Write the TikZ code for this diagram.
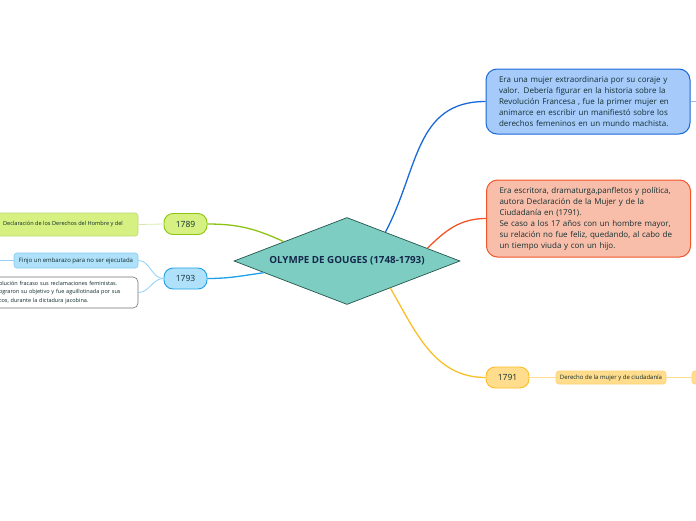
\documentclass[tikz,border=0pt]{standalone}
\usepackage{fontspec}
\setmainfont{Open Sans}
\usetikzlibrary{positioning,shapes.geometric}

\definecolor{txtcol}{RGB}{18,48,50}
\definecolor{titlecol}{RGB}{20,40,75}
\definecolor{tealfill}{RGB}{126,205,195}
\definecolor{tealline}{RGB}{35,85,75}
\definecolor{bluefill}{RGB}{166,202,250}
\definecolor{blueline}{RGB}{25,105,215}
\definecolor{salmonfill}{RGB}{249,190,170}
\definecolor{salmonline}{RGB}{242,85,40}
\definecolor{greenfill}{RGB}{214,240,130}
\definecolor{greenline}{RGB}{140,195,20}
\definecolor{skyfill}{RGB}{175,225,250}
\definecolor{skyline}{RGB}{30,160,230}
\definecolor{goldfill}{RGB}{255,221,140}
\definecolor{goldline}{RGB}{250,190,40}

\begin{document}
\begin{tikzpicture}[x=1pt,y=-1pt,
  mybubble/.style = {draw, rounded corners=11pt, line width=1pt, align=left, text width=178pt, inner xsep=13pt, font=\fontsize{8}{11}\selectfont, text=txtcol},
  myyear/.style = {draw, rounded corners=9pt, line width=0.9pt, minimum width=43pt, minimum height=21pt, font=\fontsize{8.5}{9}\selectfont, text=txtcol},
  myleaf/.style = {draw, rounded corners=3pt, line width=0.6pt, inner ysep=1pt, font=\fontsize{6}{8.5}\selectfont, text=txtcol!85!black},
  mylink/.style = {line width=1.3pt},
  mytwig/.style = {line width=0.8pt}]
\clip (0,0) rectangle (696,520);

% central topic
\node[diamond, shape aspect=2.6, draw=tealline, fill=tealfill, line width=0.7pt, minimum width=226pt, minimum height=87pt, inner sep=0pt, font=\bfseries\fontsize{9.8}{11}\selectfont, text=titlecol] (olympe) at (347,261) {OLYMPE DE GOUGES (1748-1793)};

% right side
\node[mybubble, fill=bluefill, draw=blueline, minimum height=65pt] (courage) at (588,101.5)
  {Era una mujer extraordinaria por su coraje y\\ valor. Debería figurar en la historia sobre la\\ Revolución Francesa , fue la primer mujer en\\ animarce en escribir un manifiestó sobre los\\ derechos femeninos en un mundo machista.};
\node[mybubble, fill=salmonfill, draw=salmonline, minimum height=77pt] (writer) at (588.5,218.5)
  {Era escritora, dramaturga,panfletos y política,\\ autora Declaración de la Mujer y de la\\ Ciudadanía en (1791).\\ Se caso a los 17 años con un hombre mayor,\\ su relación no fue feliz, quedando, al cabo de\\ un tiempo viuda y con un hijo.};
\node[myyear, fill=goldfill, draw=goldline] (y1791) at (507.5,377.5) {1791};
\node[myleaf, fill=goldfill, draw=goldfill!85!orange, minimum width=110pt, minimum height=13pt] (derecho) at (611,377.5) {Derecho de la mujer y de ciudadanía};
\node[myleaf, fill=goldfill, draw=goldfill!85!orange, minimum width=36pt, minimum height=13pt] (derechonext) at (710,377.5) {};
\coordinate (couragetail) at (710,101.5);

% left side
\node[myyear, fill=greenfill, draw=greenline] (y1789) at (185.5,224) {1789};
\node[myleaf, fill=greenfill, draw=greenline!60!white, minimum width=150pt, minimum height=23pt, font=\fontsize{5.6}{8.5}\selectfont] (decl) at (63,224.5) {Declaración de los Derechos del Hombre y del};
\node[myyear, fill=skyfill, draw=skyline] (y1793) at (185.5,278.5) {1793};
\node[myleaf, fill=skyfill, draw=skyline!55!white, minimum width=124pt, minimum height=15pt] (finjo) at (76,260.5) {Finjo un embarazo para no ser ejecutada};
\node[myleaf, fill=white, draw=black!55, rounded corners=5pt, align=left, text width=128pt, inner xsep=11pt, minimum height=31pt, font=\fontsize{5.5}{8.5}\selectfont] (fracaso) at (63,292.5)
  {olución fracaso sus reclamaciones feministas.\\ ograron su objetivo y fue aguillotinada por sus\\ cos, durante la dictadura jacobina.};
\coordinate (finjotail) at (-10,260.5);

% connectors
\draw[mylink, blueline] (olympe.37) to[out=62, in=180, looseness=1.1] (courage.west);
\draw[mylink, salmonline] (olympe.9) to[out=45, in=180] (writer.west);
\draw[mylink, goldline] (olympe.-32) to[out=-60, in=180] (y1791.west);
\draw[mylink, greenline] (olympe.163) to[out=155, in=0] (y1789.east);
\draw[mylink, skyline] (olympe.188) to[out=188, in=0] (y1793.east);
\draw[mytwig, blueline!45!white] (courage.east) -- (couragetail);
\draw[mytwig, goldfill] (y1791.east) -- (derecho.west);
\draw[mytwig, goldfill] (derecho.east) -- (derechonext.west);
\draw[mytwig, greenline!35!white] (y1789.west) -- (decl.east);
\draw[mytwig, skyline!50!white] (y1793.west) to[out=180, in=0] (finjo.east);
\draw[mytwig, skyline!50!white] (y1793.west) to[out=180, in=0] (fracaso.east);
\draw[mytwig, skyline!50!white] (finjo.west) -- (finjotail);
\end{tikzpicture}
\end{document}
